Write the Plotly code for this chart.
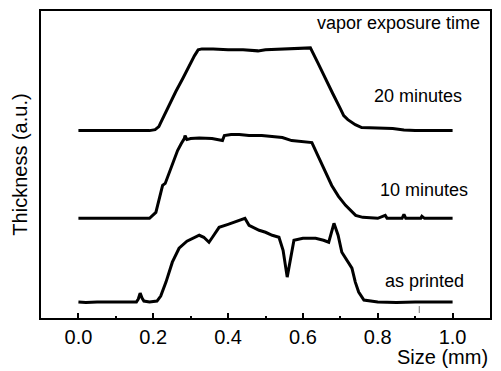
import plotly.graph_objects as go

# x positions (mm) and thickness (a.u.) for each profile
x_20 = [0.00, 0.19, 0.205, 0.215, 0.22, 0.24, 0.26, 0.28, 0.30, 0.31, 0.32, 0.33, 0.36, 0.40, 0.44,
        0.48, 0.50, 0.545, 0.60, 0.62, 0.64, 0.66, 0.68, 0.70, 0.709, 0.72, 0.74, 0.757, 0.80,
        0.84, 0.87, 0.90, 1.00]
y_20 = [188, 188, 189, 192, 196, 212, 227, 241, 256, 263, 269, 270, 270, 269, 269,
        268, 269, 270, 271, 271, 256, 240, 225, 210, 203, 199, 194, 191, 190.5,
        190, 188.5, 188, 188]

x_10 = [0.00, 0.19, 0.207, 0.215, 0.225, 0.232, 0.25, 0.265, 0.275, 0.283, 0.285, 0.29, 0.30,
        0.323, 0.357, 0.385, 0.39, 0.408, 0.43, 0.456, 0.49, 0.545, 0.57, 0.624, 0.64, 0.66,
        0.677, 0.695, 0.714, 0.741, 0.76, 0.80, 0.82, 0.825, 0.865, 0.87, 0.875, 0.915, 0.918,
        0.925, 1.00]
y_10 = [100, 100, 106, 118, 133, 135, 153, 168, 175, 180, 183, 179, 180,
        180.5, 180, 178, 183, 184, 184, 183, 183, 181, 178, 176, 163, 146,
        133, 122, 113, 103, 101, 100, 103, 100, 100, 104, 100, 100, 102,
        100, 100]

x_pr = [0.00, 0.02, 0.05, 0.12, 0.155, 0.16, 0.165, 0.17, 0.175, 0.19, 0.21, 0.22, 0.234, 0.251,
        0.269, 0.29, 0.31, 0.323, 0.335, 0.349, 0.36, 0.376, 0.40, 0.429, 0.445, 0.456, 0.47,
        0.483, 0.50, 0.518, 0.536, 0.547, 0.558, 0.567, 0.576, 0.60, 0.634, 0.655, 0.669, 0.683,
        0.694, 0.704, 0.72, 0.731, 0.74, 0.749, 0.763, 0.78, 0.80, 0.85, 0.90, 1.00]
y_pr = [16, 15.5, 16, 16, 16, 19, 25, 20, 17, 16, 17, 22, 36, 56,
        70, 77, 81, 83, 81, 76, 82, 91, 94, 98, 100, 93, 90,
        88, 86, 83, 81, 68, 41, 60, 78, 80, 80, 78, 76, 95,
        83, 66, 56, 50, 36, 26, 18, 17, 16, 15.5, 16, 16]

x_mark = [0.911, 0.911]
y_mark = [5, 12]

labels = ["vapor exposure time", "20 minutes", "10 minutes", "as printed"]
label_x = [0.856, 0.907, 0.923, 0.925]
label_y = [296, 223, 128, 37]

FONT = "Liberation Sans, Arial, sans-serif"

fig = go.Figure()
for xs, ys, w in [(x_20, y_20, 3), (x_10, y_10, 3), (x_pr, y_pr, 3)]:
    fig.add_trace(go.Scatter(x=xs, y=ys, mode="lines",
                             line=dict(color="black", width=w), showlegend=False))
fig.add_trace(go.Scatter(x=x_mark, y=y_mark, mode="lines",
                         line=dict(color="#777777", width=1), showlegend=False))

for t, xa, ya in zip(labels, label_x, label_y):
    fig.add_annotation(x=xa, y=ya, text=t, showarrow=False,
                       font=dict(family=FONT, size=18, color="black"))

fig.add_annotation(x=1.0, y=-0.168, xref="paper", yref="paper", xanchor="right", yanchor="bottom",
                   text="Size (mm)", showarrow=False,
                   font=dict(family=FONT, size=20, color="black"))

fig.update_layout(
    width=501, height=371,
    margin=dict(l=41, r=9, t=10, b=53),
    paper_bgcolor="white", plot_bgcolor="white",
    font=dict(family=FONT, size=18, color="black"),
    xaxis=dict(range=[-0.1, 1.1], tickmode="array",
               tickvals=[0.0, 0.2, 0.4, 0.6, 0.8, 1.0],
               ticktext=["0.0", "0.2", "0.4", "0.6", "0.8", "1.0"],
               ticks="inside", ticklen=5, tickwidth=1.5, tickcolor="black",
               minor=dict(tickvals=[0.1, 0.3, 0.5, 0.7, 0.9], ticks="inside",
                          ticklen=2.5, tickwidth=1.5, tickcolor="black"),
               showline=True, linecolor="black", linewidth=2, mirror=True,
               showgrid=False, zeroline=False,
               tickfont=dict(family=FONT, size=20, color="black")),
    yaxis=dict(range=[0, 308], showticklabels=False, ticks="",
               showline=True, linecolor="black", linewidth=2, mirror=True,
               showgrid=False, zeroline=False,
               title=dict(text="Thickness (a.u.)", standoff=6,
                          font=dict(family=FONT, size=20, color="black"))),
)

fig.write_html("out.html")
